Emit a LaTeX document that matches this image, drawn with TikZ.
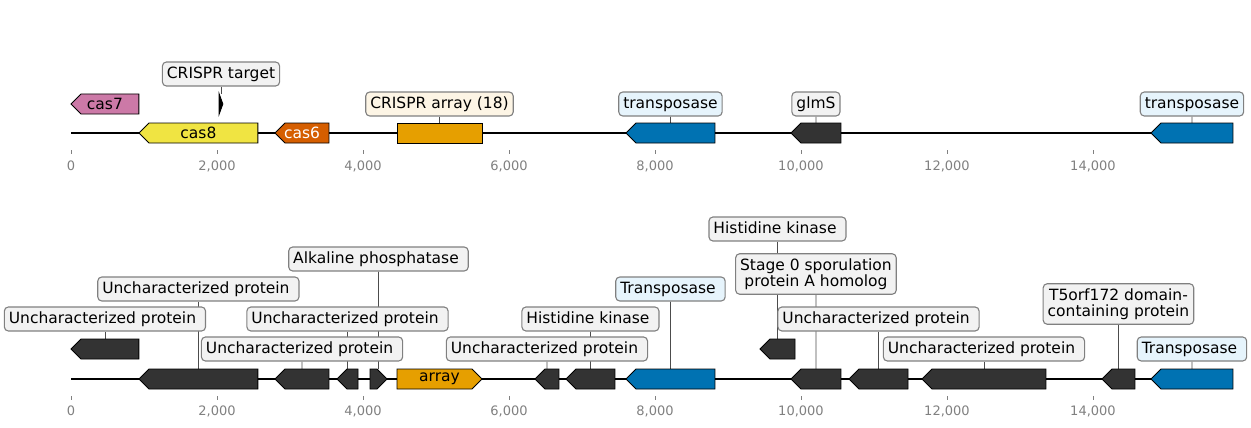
\documentclass[tikz,border=0pt]{standalone}
\usepackage{fontspec}
\setmainfont{DejaVu Sans}
\usepackage{xcolor}
\usepackage{tikz}

\definecolor{casseven}{HTML}{CC79A7}
\definecolor{caseight}{HTML}{F0E442}
\definecolor{cassix}{HTML}{D55E00}
\definecolor{crispr}{HTML}{E69F00}
\definecolor{transp}{HTML}{0072B2}
\definecolor{other}{HTML}{333333}
\definecolor{lblgray}{HTML}{F2F2F2}
\definecolor{lblblue}{HTML}{E6F4FC}
\definecolor{lblcream}{HTML}{FDF5E5}
\definecolor{tickgray}{HTML}{808080}

\pgfdeclarelayer{leads}
\pgfsetlayers{leads,main}

% trailing blank of the annotation texts
\newcommand{\trail}{\hspace*{0.32em}}

% gene arrows: name, start (bp), end (bp), level (px), fill, inner text
\newcommand{\geneleft}[6]{%
  \pgfmathsetmacro{\ghead}{min(#2+137,#3)}%
  \draw[feat, fill=#5] (#2,#4) -- (\ghead,#4-10) -- (#3,#4-10) -- (#3,#4+10) -- (\ghead,#4+10) -- cycle;
  \coordinate (#1) at ({#2/2+#3/2},#4-10);
  \if\relax\detokenize{#6}\relax\else\node[ftxt] (#1-txt) at ({#2/2+#3/2},#4) {#6};\fi}
\newcommand{\generight}[6]{%
  \pgfmathsetmacro{\ghead}{max(#3-137,#2)}%
  \draw[feat, fill=#5] (#2,#4-10) -- (\ghead,#4-10) -- (#3,#4) -- (\ghead,#4+10) -- (#2,#4+10) -- cycle;
  \coordinate (#1) at ({#2/2+#3/2},#4-10);
  \if\relax\detokenize{#6}\relax\else\node[ftxt] (#1-txt) at ({#2/2+#3/2},#4) {#6};\fi}
\newcommand{\genebox}[6]{%
  \draw[feat, fill=#5] (#2,#4-10) rectangle (#3,#4+10);
  \coordinate (#1) at ({#2/2+#3/2},#4-10);
  \if\relax\detokenize{#6}\relax\else\node[ftxt] (#1-txt) at ({#2/2+#3/2},#4) {#6};\fi}

\begin{document}
\begin{tikzpicture}[
    x=1pt, y=-1pt,
    feat/.style={draw=black, line width=0.9pt},
    ftxt/.style={font=\fontsize{15.5}{17}\selectfont, inner sep=0pt},
    lblbase/.style={draw=tickgray, line width=1.1pt, rounded corners=4pt, fill=lblgray, inner xsep=4.5pt, inner ysep=4.5pt},
    lbl/.style={lblbase, font=\fontsize{15.5}{17}\selectfont, text height=11.5pt, text depth=3.5pt},
    lbltwo/.style={lblbase, align=center, font=\fontsize{15.5}{16.5}\selectfont},
    lead/.style={draw=black!70, line width=0.8pt},
    backbone/.style={line width=1.6pt},
    tick/.style={draw=tickgray, line width=0.8pt},
    ticklbl/.style={font=\fontsize{13}{15}\selectfont, text=tickgray}
]
\useasboundingbox (0,0) rectangle (1251,428);
\begin{scope}[xshift=71pt, x=0.073pt]

% top map
\coordinate (topL) at (0,133);
\coordinate (topR) at (15918,133);
\draw[backbone] (topL) -- (topR);
\foreach \t/\lab in {0/0,2000/{2,000},4000/{4,000},6000/{6,000},8000/{8,000},10000/{10,000},12000/{12,000},14000/{14,000}}{
  \draw[tick] (\t,150) -- (\t,154);
  \node[ticklbl] (topax-\t) at (\t,166) {\lab};
}

\geneleft{cas7}{0}{930}{104}{casseven}{cas7}
\generight{tgt}{2030}{2080}{104}{black}{}
\geneleft{cas8}{930}{2560}{133}{caseight}{cas8}
\geneleft{cas6}{2795}{3534}{133}{cassix}{\color{white}cas6}
\genebox{arr}{4466}{5630}{133}{crispr}{}
\geneleft{tpa}{7603}{8822}{133}{transp}{}
\geneleft{glms}{9863}{10548}{133}{other}{}
\geneleft{tpb}{14795}{15918}{133}{transp}{}

\node[lbl] (l-tgt) at (2055,74) {CRISPR target};
\node[lbl, fill=lblcream] (l-arr) at (5048,104) {CRISPR array (18)};
\node[lbl, fill=lblblue] (l-tpa) at (8212,104) {transposase};
\node[lbl] (l-glms) at (10205,104) {glmS};
\node[lbl, fill=lblblue] (l-tpb) at (15356,104) {transposase};

\begin{pgfonlayer}{leads}
\draw[lead] (l-tgt.south) -- (tgt);
\draw[lead] (l-arr.south) -- (arr);
\draw[lead] (l-tpa.south) -- (tpa);
\draw[lead] (l-glms.south) -- (glms);
\draw[lead] (l-tpb.south) -- (tpb);
\end{pgfonlayer}

% bottom map
\coordinate (botL) at (0,379);
\coordinate (botR) at (15918,379);
\draw[backbone] (botL) -- (botR);
\foreach \t/\lab in {0/0,2000/{2,000},4000/{4,000},6000/{6,000},8000/{8,000},10000/{10,000},12000/{12,000},14000/{14,000}}{
  \draw[tick] (\t,396) -- (\t,400);
  \node[ticklbl] (botax-\t) at (\t,411) {\lab};
}

\geneleft{ga}{0}{930}{349}{other}{}
\geneleft{gb}{930}{2560}{379}{other}{}
\geneleft{gc}{2795}{3534}{379}{other}{}
\geneleft{gd}{3644}{3932}{379}{other}{}
\generight{ge}{4096}{4329}{379}{other}{}
\generight{garr}{4466}{5630}{379}{crispr}{array}
\geneleft{gf}{6356}{6685}{379}{other}{}
\geneleft{gg}{6781}{7452}{379}{other}{}
\geneleft{gtpa}{7603}{8822}{379}{transp}{}
\geneleft{gh}{9438}{9918}{349}{other}{}
\geneleft{gi}{9863}{10548}{379}{other}{}
\geneleft{gj}{10658}{11466}{379}{other}{}
\geneleft{gk}{11658}{13356}{379}{other}{}
\geneleft{gl}{14123}{14575}{379}{other}{}
\geneleft{gtpb}{14795}{15918}{379}{transp}{}

\node[lbl] (l-ga) at (465,319) {Uncharacterized protein\trail};
\node[lbl] (l-gb) at (1745,289) {Uncharacterized protein\trail};
\node[lbl] (l-gc) at (3165,349) {Uncharacterized protein\trail};
\node[lbl] (l-gd) at (3788,319) {Uncharacterized protein\trail};
\node[lbl] (l-ge) at (4212,259) {Alkaline phosphatase\trail};
\node[lbl] (l-gf) at (6520,349) {Uncharacterized protein\trail};
\node[lbl] (l-gg) at (7116,319) {Histidine kinase\trail};
\node[lbl, fill=lblblue] (l-gtpa) at (8212,289) {Transposase\trail};
\node[lbl] (l-gh) at (9678,229) {Histidine kinase\trail};
\node[lbltwo] (l-gi) at (10205,274) {Stage 0 sporulation\\protein A homolog};
\node[lbl] (l-gj) at (11062,319) {Uncharacterized protein\trail};
\node[lbl] (l-gk) at (12507,349) {Uncharacterized protein\trail};
\node[lbltwo] (l-gl) at (14349,304) {T5orf172 domain-\\containing protein};
\node[lbl, fill=lblblue] (l-gtpb) at (15356,349) {Transposase\trail};

\begin{pgfonlayer}{leads}
\foreach \g in {ga,gb,gc,gd,ge,gf,gg,gtpa,gh,gi,gj,gk,gl,gtpb}
  \draw[lead] (l-\g.south) -- (\g);
\end{pgfonlayer}

\end{scope}
\end{tikzpicture}
\end{document}
